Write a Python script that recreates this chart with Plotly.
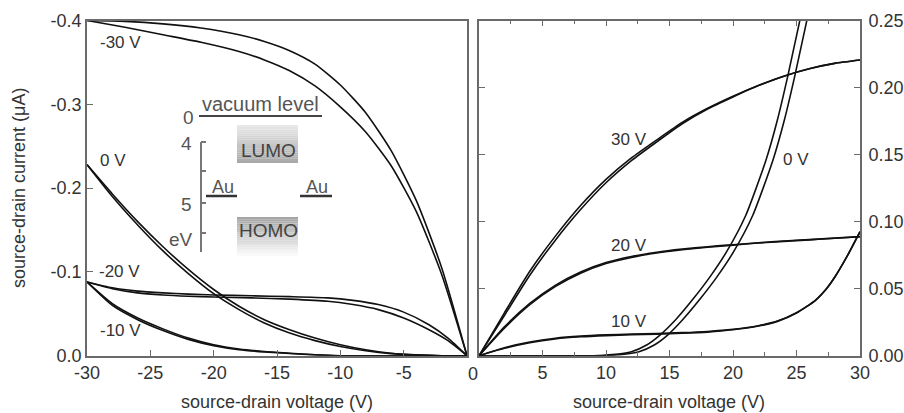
import plotly.graph_objects as go

W, H = 904, 413
FONT = "Liberation Sans, Arial, sans-serif"

# ---------------- data (source-drain current in uA vs source-drain voltage in V) ----------------
# left panel: negative drain voltage; gate voltages -30, 0, -20, -10 V (two sweep directions each)
V_N30 = [-30, -27, -24, -21, -18, -16, -14, -12, -10, -8, -6, -4, -2, 0]
I_N30_A = [-0.400, -0.399, -0.396, -0.391, -0.383, -0.375, -0.364, -0.348, -0.323, -0.290, -0.245, -0.185, -0.105, 0]
I_N30_B = [-0.400, -0.392, -0.383, -0.374, -0.363, -0.353, -0.340, -0.322, -0.297, -0.267, -0.227, -0.172, -0.097, 0]

V_N00 = [-30, -28, -26, -24, -22, -20, -18, -16, -14, -12, -10, -8, -6, -4, -2, 0]
I_N00_A = [-0.228, -0.193, -0.160, -0.130, -0.103, -0.079, -0.059, -0.043, -0.031, -0.021, -0.013, -0.007, -0.003, -0.001, 0, 0]
I_N00_B = [-0.228, -0.190, -0.156, -0.125, -0.098, -0.074, -0.055, -0.039, -0.027, -0.018, -0.011, -0.006, -0.0025, -0.0008, 0, 0]

V_N20 = [-30, -28, -26, -24, -22, -20, -17, -14, -11, -9, -7, -5, -3, -1.5, 0]
I_N20_A = [-0.088, -0.081, -0.077, -0.075, -0.0735, -0.0725, -0.0715, -0.0705, -0.069, -0.066, -0.061, -0.052, -0.037, -0.021, 0]
I_N20_B = [-0.088, -0.080, -0.075, -0.0725, -0.071, -0.070, -0.069, -0.0675, -0.065, -0.061, -0.055, -0.045, -0.031, -0.018, 0]

V_N10 = [-30, -28, -26, -24, -22, -20, -18, -16, -14, -12, -10, 0]
I_N10_A = [-0.088, -0.062, -0.045, -0.032, -0.021, -0.013, -0.008, -0.005, -0.003, -0.0012, 0, 0]
I_N10_B = [-0.088, -0.060, -0.043, -0.030, -0.0195, -0.012, -0.0072, -0.0045, -0.0026, -0.001, 0, 0]

# right panel: positive drain voltage; gate voltages 30, 20, 10, 0 V
V_P30 = [0, 2, 4, 6, 8, 10, 12, 14, 16, 18, 20, 22, 24, 26, 28, 30]
I_P30_A = [0, 0.032, 0.063, 0.089, 0.112, 0.1315, 0.1475, 0.161, 0.174, 0.1845, 0.1935, 0.2015, 0.2085, 0.2140, 0.2180, 0.2205]
I_P30_B = [0, 0.030, 0.060, 0.086, 0.109, 0.1290, 0.1455, 0.1595, 0.173, 0.1840, 0.1930, 0.2015, 0.2085, 0.2140, 0.2180, 0.2205]

V_P20 = [0, 2, 4, 6, 8, 10, 12, 14, 16, 18, 20, 22, 24, 26, 28, 30]
I_P20_A = [0, 0.0215, 0.039, 0.0525, 0.0625, 0.0695, 0.0740, 0.0772, 0.0795, 0.0813, 0.0828, 0.0842, 0.0855, 0.0866, 0.0877, 0.0888]
I_P20_B = [0, 0.0205, 0.038, 0.0515, 0.0615, 0.0687, 0.0733, 0.0766, 0.0790, 0.0809, 0.0825, 0.0840, 0.0853, 0.0864, 0.0876, 0.0887]

V_P10 = [0, 2, 4, 6, 8, 10, 12, 14, 16, 18, 20, 22, 23.5, 25, 26.5, 27.4, 28, 29, 30]
I_P10_A = [0, 0.0060, 0.0102, 0.0130, 0.0146, 0.0155, 0.0161, 0.0166, 0.0172, 0.0181, 0.0197, 0.0224, 0.0258, 0.0320, 0.0415, 0.0505, 0.0585, 0.0745, 0.0925]
I_P10_B = [0, 0.0055, 0.0097, 0.0125, 0.0141, 0.0150, 0.0156, 0.0161, 0.0167, 0.0176, 0.0193, 0.0221, 0.0256, 0.0318, 0.0413, 0.0503, 0.0583, 0.0744, 0.0925]

V_P00_A = [0, 9, 10.5, 12, 13.2, 14.25, 15.5, 16.9, 18.2, 19.5, 21, 22.6, 23.5, 24.3, 25.4]
V_P00_B = [0, 9.6, 11.1, 12.6, 13.8, 14.85, 16.05, 17.45, 18.75, 20.05, 21.55, 23.15, 24.05, 24.85, 25.95]
I_P00 = [0, 0, 0.0008, 0.003, 0.008, 0.0154, 0.027, 0.0428, 0.059, 0.0776, 0.1046, 0.146, 0.176, 0.208, 0.256]

# tick labels
X_LEFT_TICKS = [-30, -25, -20, -15, -10, -5]
X_LEFT_TEXT = ["-30", "-25", "-20", "-15", "-10", "-5"]
Y_LEFT_TICKS = [0, -0.1, -0.2, -0.3, -0.4]
Y_LEFT_TEXT = ["0.0", "-0.1", "-0.2", "-0.3", "-0.4"]
X_RIGHT_TICKS = [5, 10, 15, 20, 25, 30]
X_RIGHT_TEXT = ["5", "10", "15", "20", "25", "30"]
Y_RIGHT_TICKS = [0, 0.05, 0.10, 0.15, 0.20, 0.25]
Y_RIGHT_TEXT = ["0.00", "0.05", "0.10", "0.15", "0.20", "0.25"]

# curve labels: (text, x, y)
LEFT_LABELS = [("-30 V", -29.1, -0.374), ("0 V", -29.1, -0.233), ("-20 V", -29.2, -0.100), ("-10 V", -29.1, -0.030)]
RIGHT_LABELS = [("30 V", 10.2, 0.161), ("20 V", 10.2, 0.082), ("10 V", 10.2, 0.0254), ("0 V", 23.8, 0.146)]

# ---------------- figure ----------------
fig = go.Figure()

def add_curve(x, y, xa, ya):
    fig.add_trace(go.Scatter(x=x, y=y, mode="lines", xaxis=xa, yaxis=ya,
                             line=dict(color="#111", width=1.6, shape="spline", smoothing=0.6),
                             showlegend=False, hoverinfo="skip"))

for vx, iy in [(V_N30, I_N30_A), (V_N30, I_N30_B), (V_N00, I_N00_A), (V_N00, I_N00_B),
               (V_N20, I_N20_A), (V_N20, I_N20_B), (V_N10, I_N10_A), (V_N10, I_N10_B)]:
    add_curve(vx, iy, "x", "y")

for vx, iy in [(V_P30, I_P30_A), (V_P30, I_P30_B), (V_P20, I_P20_A), (V_P20, I_P20_B),
               (V_P10, I_P10_A), (V_P10, I_P10_B), (V_P00_A, I_P00), (V_P00_B, I_P00)]:
    add_curve(vx, iy, "x2", "y2")

def px(x):
    return x / W

def py(y):
    return 1 - y / H

YDOM = [py(355.7), py(20.5)]
TICKFONT = dict(family=FONT, size=18, color="#333")
FRAME = "#6a6a6a"

common = dict(showgrid=False, zeroline=False, showline=True, linecolor=FRAME, linewidth=1.6,
              ticks="inside", ticklen=6, tickwidth=1.3, tickcolor=FRAME, tickfont=TICKFONT,
              tickmode="array")

fig.update_layout(
    width=W, height=H, template="none",
    margin=dict(l=0, r=0, t=0, b=0),
    paper_bgcolor="white", plot_bgcolor="white",
    font=dict(family=FONT, size=18, color="#333"),
    xaxis=dict(domain=[px(87), px(467)], range=[-30, 0], tickvals=X_LEFT_TICKS, ticktext=X_LEFT_TEXT,
               mirror=True, anchor="y", **common),
    yaxis=dict(domain=YDOM, range=[0, -0.4], tickvals=Y_LEFT_TICKS, ticktext=Y_LEFT_TEXT,
               mirror=True, anchor="x", **common),
    xaxis2=dict(domain=[px(479), px(860)], range=[0, 30], tickvals=X_RIGHT_TICKS, ticktext=X_RIGHT_TEXT,
                mirror="ticks", anchor="y2",
                minor=dict(ticks="inside", ticklen=4, tickwidth=1.2, tickcolor=FRAME, dtick=2.5, tick0=0),
                **common),
    yaxis2=dict(domain=YDOM, range=[0, 0.25], tickvals=Y_RIGHT_TICKS, ticktext=Y_RIGHT_TEXT,
                side="right", mirror="ticks", anchor="x2", ticklabelstandoff=3, **common),
)

ann = []
for t, x, y in LEFT_LABELS:
    ann.append(dict(text=t, x=x, y=y, xref="x", yref="y", xanchor="left", yanchor="middle",
                    showarrow=False, font=dict(family=FONT, size=17, color="#333")))
for t, x, y in RIGHT_LABELS:
    ann.append(dict(text=t, x=x, y=y, xref="x2", yref="y2", xanchor="left", yanchor="middle",
                    showarrow=False, font=dict(family=FONT, size=17, color="#333")))

def pa(text, x, y, size=18, color="#333", xanchor="center", angle=0):
    ann.append(dict(text=text, x=px(x), y=py(y), xref="paper", yref="paper", xanchor=xanchor,
                    yanchor="middle", showarrow=False, textangle=angle,
                    font=dict(family=FONT, size=size, color=color)))

# shared "0" tick label and axis titles
pa("0", 473, 374)
pa("source-drain voltage (V)", 277, 402)
pa("source-drain voltage (V)", 669, 402)
pa("source-drain current (μA)", 19, 188, angle=-90)

# inset: energy level diagram
INSET = "#555"
pa("vacuum level", 260, 104, size=20, color=INSET)
pa("0", 188, 117, size=19, color=INSET)
pa("4", 194, 143, size=19, color=INSET, xanchor="right")
pa("5", 194, 204, size=19, color=INSET, xanchor="right")
pa("eV", 195, 240, size=19, color=INSET, xanchor="right")
pa("LUMO", 268, 150, size=19, color="#444")
pa("HOMO", 268, 231, size=19, color="#444")
pa("Au", 223, 187, size=18, color=INSET)
pa("Au", 317, 187, size=18, color=INSET)

shapes = []

def pline(x0, y0, x1, y1, color="#444", width=2):
    shapes.append(dict(type="line", xref="paper", yref="paper", x0=px(x0), y0=py(y0), x1=px(x1), y1=py(y1),
                       line=dict(color=color, width=width)))

def gradient_box(x0, y0, x1, y1, c_top, c_bot, n=18):
    for k in range(n):
        f = k / (n - 1)
        c = int(round(c_top + (c_bot - c_top) * f))
        ya = y0 + (y1 - y0) * k / n
        yb = y0 + (y1 - y0) * (k + 1) / n
        shapes.append(dict(type="rect", xref="paper", yref="paper", x0=px(x0), x1=px(x1),
                           y0=py(ya), y1=py(yb), line=dict(width=0),
                           fillcolor=f"rgb({c},{c},{c})", layer="below"))

gradient_box(237, 125, 298, 163, 232, 168)
gradient_box(237, 217, 298, 256, 165, 250)

pline(199, 116, 322, 116)
pline(201, 142, 201, 252, color="#777", width=2)
for yy in [142, 171, 203, 233]:
    pline(201, yy, 206, yy, color="#777", width=2)
pline(206, 196, 237, 196, color="#333", width=2.5)
pline(300, 196, 332, 196, color="#333", width=2.5)

fig.update_layout(annotations=ann, shapes=shapes)

fig.write_html("out.html", config={"displayModeBar": False},
               post_script="document.body.style.margin='0px';document.body.style.overflow='hidden';")
